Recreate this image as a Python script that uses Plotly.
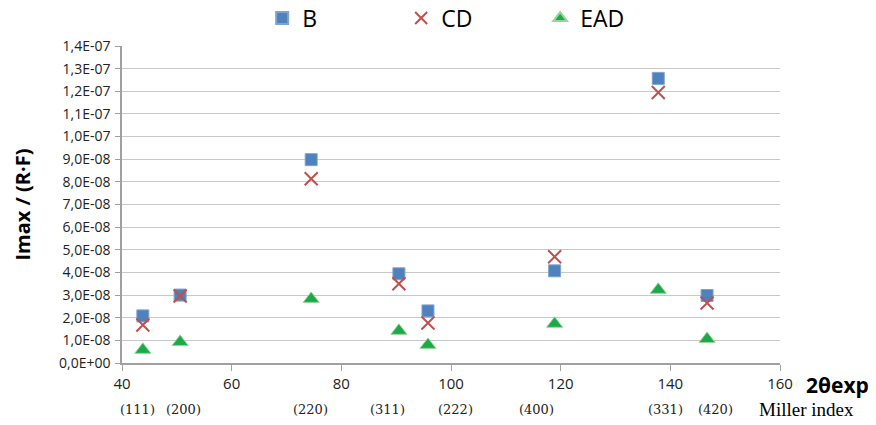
import plotly.graph_objects as go

two_theta = [43.8, 50.6, 74.5, 90.5, 95.8, 118.9, 137.8, 146.7]
B = [2.08e-8, 3.0e-8, 8.98e-8, 3.94e-8, 2.3e-8, 4.07e-8, 1.257e-7, 2.98e-8]
CD = [1.68e-8, 2.96e-8, 8.14e-8, 3.5e-8, 1.77e-8, 4.69e-8, 1.195e-7, 2.65e-8]
EAD = [0.58e-8, 0.93e-8, 2.83e-8, 1.42e-8, 0.8e-8, 1.73e-8, 3.23e-8, 1.06e-8]

miller = ["(111)", "(200)", "(220)", "(311)", "(222)", "(400)", "(331)", "(420)"]
miller_x = [42.9, 51.3, 74.4, 88.5, 100.8, 115.6, 139.1, 148.2]

y_ticks = [i * 1e-8 for i in range(15)]
y_ticktext = ["0,0E+00", "1,0E-08", "2,0E-08", "3,0E-08", "4,0E-08", "5,0E-08", "6,0E-08",
              "7,0E-08", "8,0E-08", "9,0E-08", "1,0E-07", "1,1E-07", "1,2E-07", "1,3E-07", "1,4E-07"]
x_ticks = [40, 60, 80, 100, 120, 140, 160]

fig = go.Figure()
fig.add_trace(go.Scatter(x=two_theta, y=B, mode="markers", name="B",
                         marker=dict(symbol="square", size=12, color="#4F81BD",
                                     line=dict(color="#7FA3D3", width=1))))
fig.add_trace(go.Scatter(x=two_theta, y=CD, mode="markers", name="CD",
                         marker=dict(symbol="x-thin", size=13, color="#C0504D",
                                     line=dict(color="#C0504D", width=2))))
fig.add_trace(go.Scatter(x=two_theta, y=EAD, mode="markers", name="EAD",
                         marker=dict(symbol="triangle-up", size=14, color="#1AAB48",
                                     line=dict(color="#9BD49B", width=1))))

for lab, xv in zip(miller, miller_x):
    fig.add_annotation(x=xv, y=-0.148, xref="x", yref="paper", text=lab, showarrow=False,
                       xanchor="center", yanchor="middle",
                       font=dict(family="DejaVu Serif", size=13, color="#222"))
fig.add_annotation(x=1.041, y=-0.148, xref="paper", yref="paper", text="Miller index",
                   showarrow=False, xanchor="center", yanchor="middle",
                   font=dict(family="Liberation Serif", size=19, color="#000"))
fig.add_annotation(x=1.088, y=-0.069, xref="paper", yref="paper", text="<b>2θexp</b>",
                   showarrow=False, xanchor="center", yanchor="middle",
                   font=dict(family="Open Sans", size=21, color="#000"))

fig.update_layout(
    width=876, height=425,
    margin=dict(l=122, r=96, t=46, b=62, autoexpand=False),
    plot_bgcolor="white", paper_bgcolor="white",
    font=dict(family="Open Sans", color="#222"),
    showlegend=True,
    legend=dict(orientation="h", x=0.213, y=1.088, xanchor="left", yanchor="middle",
                font=dict(size=23, color="#000"), entrywidth=94, entrywidthmode="pixels",
                itemsizing="constant"),
    xaxis=dict(range=[40, 160], tickvals=x_ticks, showgrid=False, zeroline=False,
               showline=True, linecolor="#A0A0A0", linewidth=1.5, ticks="outside",
               ticklen=6, tickcolor="#A0A0A0", tickfont=dict(size=15, color="#222")),
    yaxis=dict(range=[0, 1.4e-7], tickvals=y_ticks, ticktext=y_ticktext, showgrid=True,
               gridcolor="#C8C8C8", gridwidth=1, zeroline=False, showline=True,
               linecolor="#A0A0A0", linewidth=1.5, ticks="outside", ticklen=5,
               tickcolor="#A0A0A0", tickfont=dict(size=14, color="#222"),
               ticklabelstandoff=2,
               title=dict(text="<b>Imax / (R·F)</b>", font=dict(size=20, color="#000"),
                          standoff=23)),
)
fig.write_html("out.html", config={"displayModeBar": False},
               post_script="document.body.style.margin='0';")
